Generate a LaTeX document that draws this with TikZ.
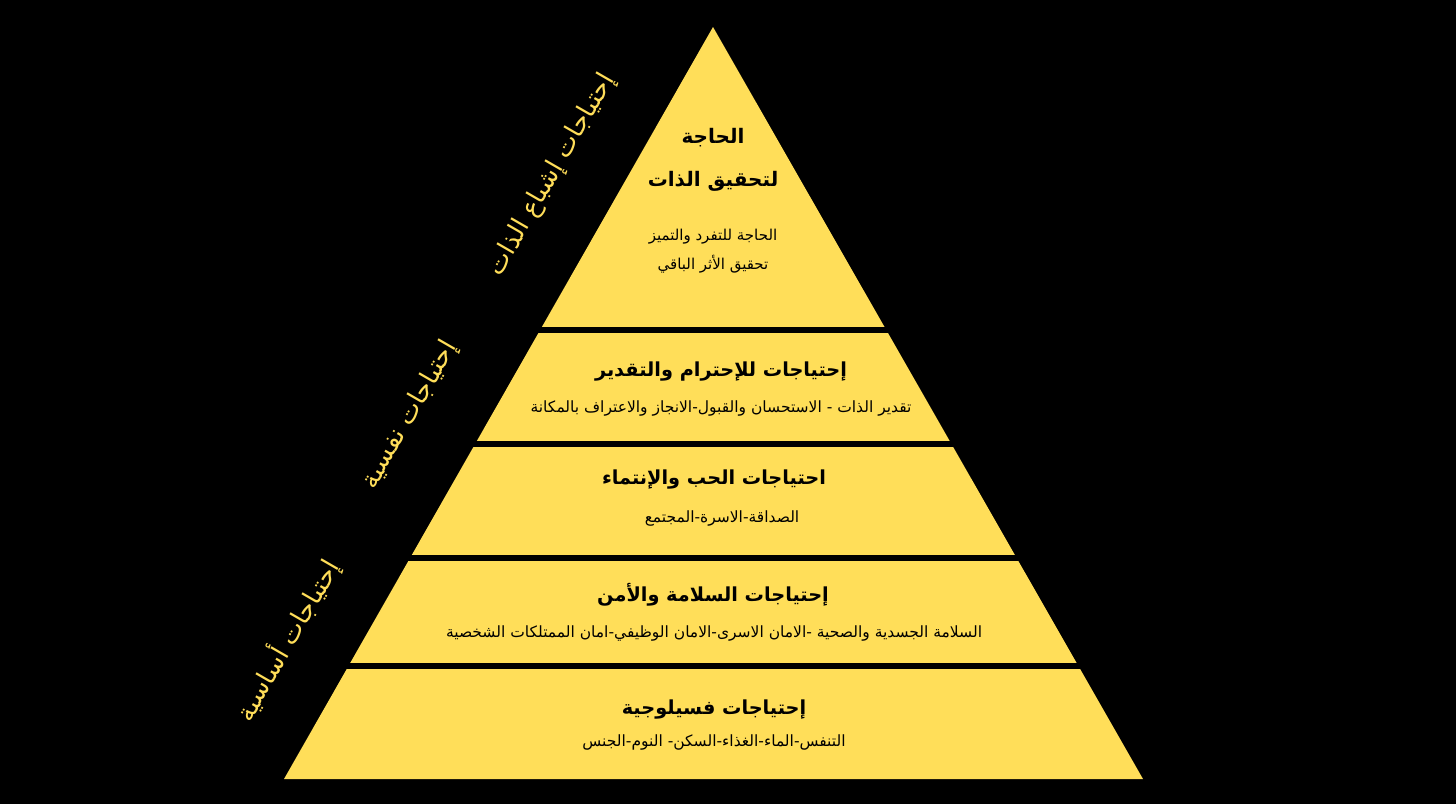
\documentclass[tikz,border=0pt]{standalone}
\usepackage{fontspec}
\newfontfamily\arabicfont[Script=Arabic]{DejaVu Sans}
\TeXXeTstate=1
\definecolor{pyryellow}{RGB}{255,222,89}
\newcommand{\artxt}[1]{\beginR #1\endR}

\begin{document}
\begin{tikzpicture}[x=1pt, y=-1pt,
  titletxt/.style={anchor=center, inner sep=0pt, font=\arabicfont\bfseries\fontsize{20}{24}\selectfont},
  headtxt/.style={anchor=center, inner sep=0pt, font=\arabicfont\bfseries\fontsize{19.3}{23}\selectfont},
  subtxt/.style={anchor=center, inner sep=0pt, font=\arabicfont\fontsize{15.5}{18}\selectfont},
  sidetxt/.style={anchor=center, inner sep=0pt, rotate=60, text=pyryellow, font=\arabicfont\fontsize{25.5}{30}\selectfont}]

  %% ════ 背景 ════
  \fill[black] (0,0) rectangle (1456,804);

  %% ════ 金字塔 ════
  \coordinate (apex)  at (713.0,27.0);
  \coordinate (baseL) at (284.0,779.0);
  \coordinate (baseR) at (1143.0,779.0);
  \fill[pyryellow] (apex) -- (baseL) -- (baseR) -- cycle;

  %% ════ 分隔条 ════
  \fill[black] (200,327.0) rectangle (1250,333.0);
  \fill[black] (200,441.0) rectangle (1250,447.0);
  \fill[black] (200,555.0) rectangle (1250,560.5);
  \fill[black] (200,663.0) rectangle (1250,668.5);

  %% ════ 顶层 ════
  \node[titletxt] (selfA) at (713.0,138.0) {\artxt{الحاجة}};
  \node[titletxt] (selfB) at (713.0,181.0) {\artxt{لتحقيق الذات}};
  \node[subtxt, font=\arabicfont\fontsize{15}{18}\selectfont] (selfC) at (713.0,237.0) {\artxt{الحاجة للتفرد والتميز}};
  \node[subtxt, font=\arabicfont\fontsize{15}{18}\selectfont] (selfD) at (713.0,264.0) {\artxt{تحقيق الأثر الباقي}};

  %% ════ 各层 ════
  \node[headtxt] (esteemH) at (721.0,372.0) {\artxt{إحتياجات للإحترام والتقدير}};
  \node[subtxt]  (esteemS) at (721.0,408.0) {\artxt{تقدير الذات - الاستحسان والقبول-الانجاز والاعتراف بالمكانة}};
  \node[headtxt] (loveH) at (714.0,480.0) {\artxt{احتياجات الحب والإنتماء}};
  \node[subtxt]  (loveS) at (722.0,518.0) {\artxt{الصداقة-الاسرة-المجتمع}};
  \node[headtxt] (safeH) at (713.0,595.0) {\artxt{إحتياجات السلامة والأمن}};
  \node[subtxt]  (safeS) at (714.0,633.0) {\artxt{السلامة الجسدية والصحية -الامان الاسرى-الامان الوظيفي-امان الممتلكات الشخصية}};
  \node[headtxt] (physH) at (714.0,710.0) {\artxt{إحتياجات فسيلوجية}};
  \node[subtxt]  (physS) at (714.0,742.0) {\artxt{التنفس-الماء-الغذاء-السكن- النوم-الجنس}};

  %% ════ 侧标 ════
  \node[sidetxt] (sideSelf)  at (552.0,175.0) {\artxt{إحتياجات إشباع الذات}};
  \node[sidetxt] (sidePsych) at (410.0,415.0) {\artxt{إحتياجات نفسية}};
  \node[sidetxt] (sideBasic) at (287.0,640.0) {\artxt{إحتياجات أساسية}};

  \pgfresetboundingbox
  \path[use as bounding box] (0,0) rectangle (1456,804);
\end{tikzpicture}
\end{document}
